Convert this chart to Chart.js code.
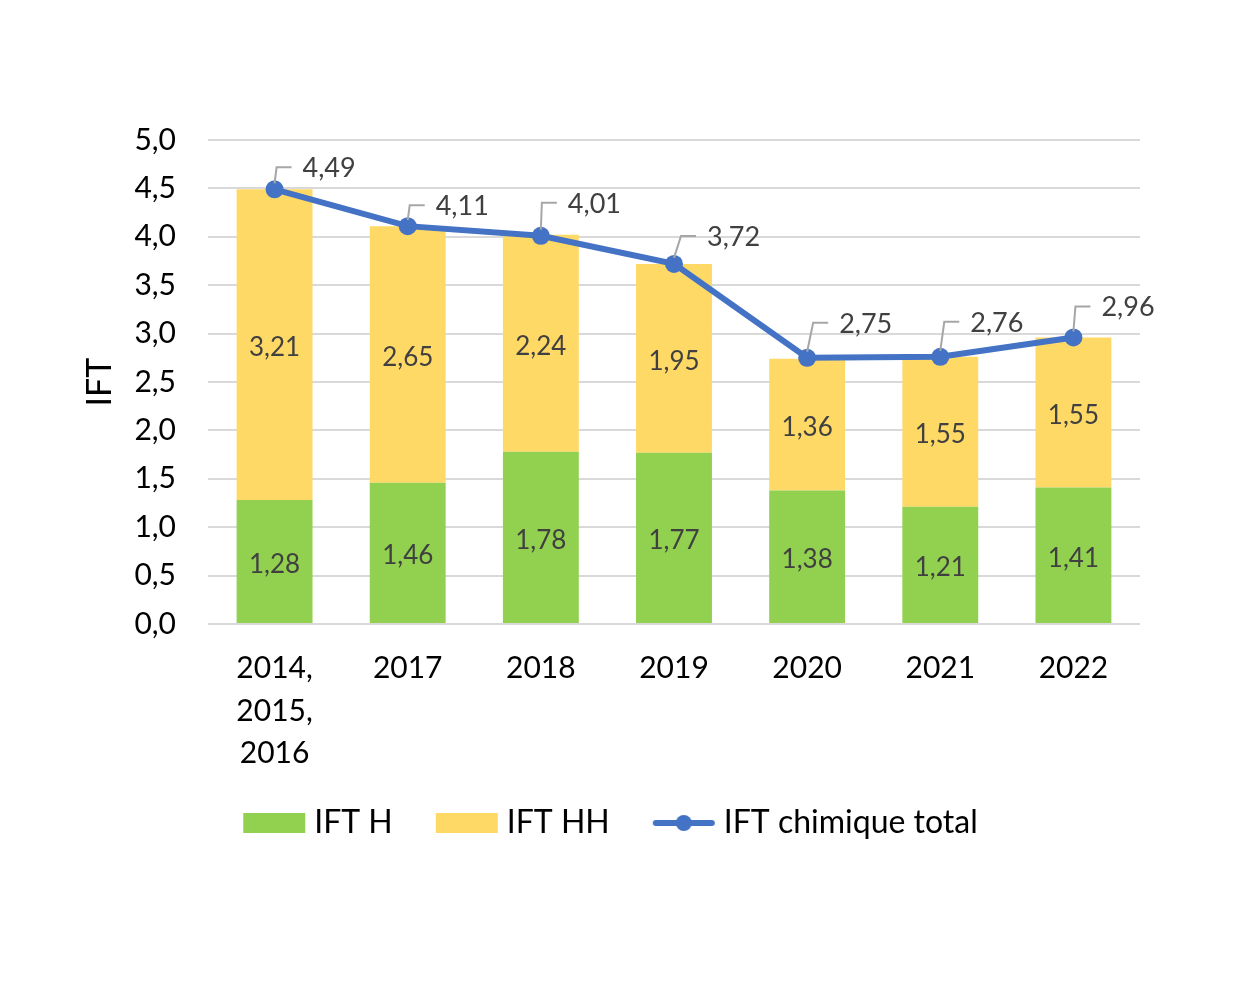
<!DOCTYPE html>
<html>
<head>
<meta charset="utf-8">
<script src="https://cdn.jsdelivr.net/npm/chart.js@4.4.1/dist/chart.umd.min.js"></script>
<style>
  html, body { margin: 0; padding: 0; background: #fff; }
  #wrap { width: 1235px; height: 988px; }
</style>
</head>
<body>
<div id="wrap"><canvas id="iftChart" width="1235" height="988"></canvas></div>
<script>
// Values
const categories = [['2014,', '2015,', '2016'], '2017', '2018', '2019', '2020', '2021', '2022'];
const iftH = [1.28, 1.46, 1.78, 1.77, 1.38, 1.21, 1.41];
const iftHH = [3.21, 2.65, 2.24, 1.95, 1.36, 1.55, 1.55];
const iftTotal = [4.49, 4.11, 4.01, 3.72, 2.75, 2.76, 2.96];
const yTicks = [0, 0.5, 1, 1.5, 2, 2.5, 3, 3.5, 4, 4.5, 5];

const GREEN = '#92D050';
const YELLOW = '#FFD966';
const BLUE = '#4472C4';
const FONT = 'Lato, "Open Sans", sans-serif';

// leader lines of the line labels: lift above the point and sideways lean (px)
const labelLift = [22, 21, 33, 28, 35, 35, 31];
const labelSlant = [2, 2, 1, 7, 6, 4, 2];

function fmt(v, d) {
    return v.toFixed(d).replace('.', ',');
}

// Small legend swatches
function swatch(kind, color) {
    const c = document.createElement('canvas');
    c.width = 64; c.height = 22;
    const g = c.getContext('2d');
    if (kind === 'box') {
        g.fillStyle = color;
        g.fillRect(1, 1, 62, 20);
    } else {
        g.strokeStyle = color;
        g.lineWidth = 6;
        g.lineCap = 'round';
        g.beginPath();
        g.moveTo(4, 11); g.lineTo(60, 11);
        g.stroke();
        g.fillStyle = color;
        g.beginPath();
        g.arc(32, 11, 8, 0, Math.PI * 2);
        g.fill();
    }
    return c;
}

// Labels inside bars and leader-line labels on the line
const labelsPlugin = {
    id: 'valueLabels',
    afterDatasetsDraw(chart) {
        const ctx = chart.ctx;
        ctx.save();
        ctx.font = '26px ' + FONT;
        ctx.fillStyle = '#404040';
        ctx.textAlign = 'center';
        ctx.textBaseline = 'middle';
        [0, 1].forEach(function(di) {
            chart.getDatasetMeta(di).data.forEach(function(bar, i) {
                const midY = (bar.y + bar.base) / 2;
                ctx.fillText(fmt(chart.data.datasets[di].data[i], 2), bar.x, midY + 3);
            });
        });
        // line labels with leader
        ctx.font = '27px ' + FONT;
        const pts = chart.getDatasetMeta(2).data;
        pts.forEach(function(p, i) {
            const lift = labelLift[i];
            const slant = labelSlant[i];
            ctx.strokeStyle = '#A6A6A6';
            ctx.lineWidth = 2;
            ctx.beginPath();
            ctx.moveTo(p.x, p.y - 6);
            ctx.lineTo(p.x + slant, p.y - lift);
            ctx.lineTo(p.x + slant + 15, p.y - lift);
            ctx.stroke();
            ctx.textAlign = 'left';
            ctx.fillStyle = '#404040';
            ctx.fillText(fmt(iftTotal[i], 2), p.x + slant + 26, p.y - lift + 1);
        });
        ctx.restore();
    }
};

// white page + pull the legend up a bit (x axis needs its full height for the 3-line label)
const pagePlugin = {
    id: 'page',
    afterLayout(chart) {
        chart.legend.top -= 17;
        chart.legend.bottom -= 17;
        chart.legend.left += 4;
        chart.legend.right += 4;
    },
    beforeDraw(chart) {
        const ctx = chart.ctx;
        ctx.save();
        ctx.fillStyle = '#fff';
        ctx.fillRect(0, 0, chart.width, chart.height);
        ctx.restore();
    }
};

new Chart(document.getElementById('iftChart'), {
    data: {
        labels: categories,
        datasets: [{
            type: 'bar',
            label: 'IFT H',
            data: iftH,
            backgroundColor: GREEN,
            stack: 'bars',
            order: 1,
            categoryPercentage: 1,
            barPercentage: 0.57
        }, {
            type: 'bar',
            label: 'IFT HH',
            data: iftHH,
            backgroundColor: YELLOW,
            stack: 'bars',
            order: 1,
            categoryPercentage: 1,
            barPercentage: 0.57
        }, {
            type: 'line',
            label: 'IFT chimique total',
            data: iftTotal,
            stack: 'total',
            order: 0,
            borderColor: BLUE,
            borderWidth: 6,
            pointRadius: 9,
            pointBackgroundColor: BLUE,
            pointBorderColor: BLUE,
            pointBorderWidth: 0,
            tension: 0
        }]
    },
    options: {
        responsive: false,
        animation: false,
        devicePixelRatio: 1,
        layout: {
            padding: { left: 80, right: 95, top: 140, bottom: 122 }
        },
        plugins: {
            tooltip: { enabled: false },
            legend: {
                position: 'bottom',
                labels: {
                    usePointStyle: true,
                    pointStyleWidth: 48,
                    boxHeight: 22,
                    font: { family: FONT, size: 32 },
                    color: '#000',
                    padding: 50,
                    generateLabels: function(chart) {
                        return [
                            { text: 'IFT H', pointStyle: swatch('box', GREEN), datasetIndex: 0, fontColor: '#000', lineWidth: 0, strokeStyle: 'transparent', fillStyle: GREEN },
                            { text: 'IFT HH', pointStyle: swatch('box', YELLOW), datasetIndex: 1, fontColor: '#000', lineWidth: 0, strokeStyle: 'transparent', fillStyle: YELLOW },
                            { text: 'IFT chimique total', pointStyle: swatch('line', BLUE), datasetIndex: 2, fontColor: '#000', lineWidth: 0, strokeStyle: 'transparent', fillStyle: BLUE }
                        ];
                    }
                }
            }
        },
        scales: {
            x: {
                stacked: true,
                grid: { display: false },
                border: { display: false },
                ticks: {
                    font: { family: FONT, size: 30, lineHeight: 1.42 },
                    color: '#000',
                    padding: 15,
                    maxRotation: 0,
                    autoSkip: false
                },
                afterFit: function(scale) { scale.height = 150; }
            },
            y: {
                stacked: true,
                min: 0,
                max: 5,
                afterBuildTicks: function(scale) {
                    scale.ticks = yTicks.map(function(v) { return { value: v }; });
                },
                ticks: {
                    font: { family: FONT, size: 30 },
                    color: '#000',
                    padding: 32,
                    callback: function(v) { return fmt(v, 1); }
                },
                grid: {
                    color: '#D9D9D9',
                    lineWidth: 2,
                    drawTicks: false
                },
                border: { display: false },
                title: {
                    display: true,
                    text: 'IFT',
                    font: { family: FONT, size: 34 },
                    color: '#000',
                    padding: 0
                },
                afterFit: function(scale) { scale.width = 128; }
            }
        }
    },
    plugins: [pagePlugin, labelsPlugin]
});
</script>
</body>
</html>
